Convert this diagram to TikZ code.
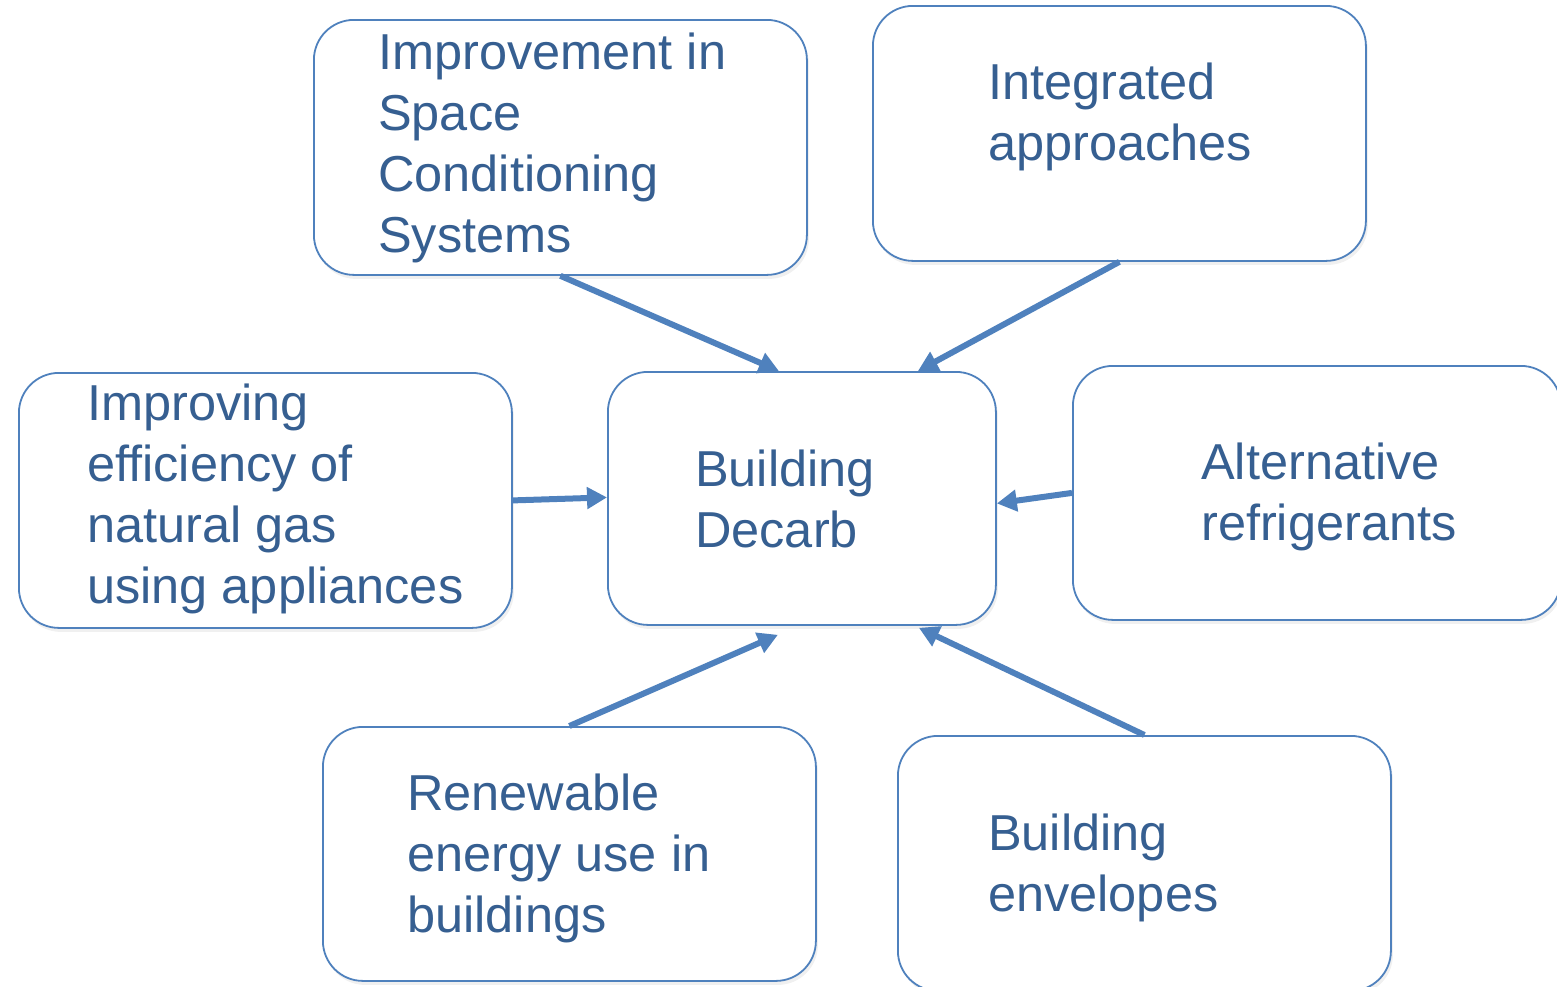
\documentclass[tikz,border=0pt]{standalone}
\usepackage{fontspec}
\setmainfont{Liberation Sans}
\usetikzlibrary{arrows.meta,calc,shadows}
\definecolor{boxblue}{HTML}{4F81BD}
\definecolor{txtblue}{HTML}{365F91}
\tikzset{
  card/.style={draw=boxblue, line width=1.8pt, rounded corners=40pt, fill=white,
    inner sep=0pt, anchor=north west,
    drop shadow={opacity=0.12, shadow xshift=2pt, shadow yshift=-4pt}},
  label/.style={inner sep=0pt, anchor=base west, align=left, text=txtblue,
    font=\fontsize{50.5pt}{61pt}\selectfont},
  link/.style={draw=boxblue, line width=6pt, -{Triangle[length=20pt,width=21pt]}}
}
\begin{document}
\begin{tikzpicture}[x=1pt,y=-1pt]
\useasboundingbox (0,0) rectangle (1557,986);
% boxes
\node[card, minimum width=493pt, minimum height=255pt] (b1) at (313,19) {};
\node[card, minimum width=493pt, minimum height=255pt] (b2) at (872,5) {};
\node[card, minimum width=493pt, minimum height=255pt] (b3) at (18,372) {};
\node[card, minimum width=388pt, minimum height=253pt] (c) at (607,371) {};
\node[card, minimum width=488pt, minimum height=254pt] (b5) at (1072,365) {};
\node[card, minimum width=493pt, minimum height=254pt] (b6) at (322,726) {};
\node[card, minimum width=493pt, minimum height=255pt] (b7) at (897,735) {};
% texts (anchor = baseline of last line)
\node[label] (t1) at (378,252) {Improvement in\\Space\\Conditioning\\Systems};
\node[label] (t2) at (988,160) {Integrated\\approaches};
\node[label] (t3) at (87,603) {Improving\\efficiency of\\natural gas\\using appliances};
\node[label] (tc) at (695,547) {Building\\Decarb};
\node[label] (t5) at (1201,540) {Alternative\\refrigerants};
\node[label] (t6) at (407,932) {Renewable\\energy use in\\buildings};
\node[label] (t7) at (988,911) {Building\\envelopes};
% connectors
\draw[link] (b1.south) -- ([xshift=-23pt]c.north);
\draw[link] (b2.south) -- ([xshift=116pt]c.north);
\draw[link] (b3.east) -- ([yshift=1pt]c.west);
\draw[link] (b5.west) -- ([yshift=-5pt]c.east);
\draw[link] (b6.north) -- ([xshift=-24pt,yshift=-9pt]c.south);
\draw[link] (b7.north) -- ([xshift=117pt,yshift=-2pt]c.south);
\end{tikzpicture}
\end{document}
